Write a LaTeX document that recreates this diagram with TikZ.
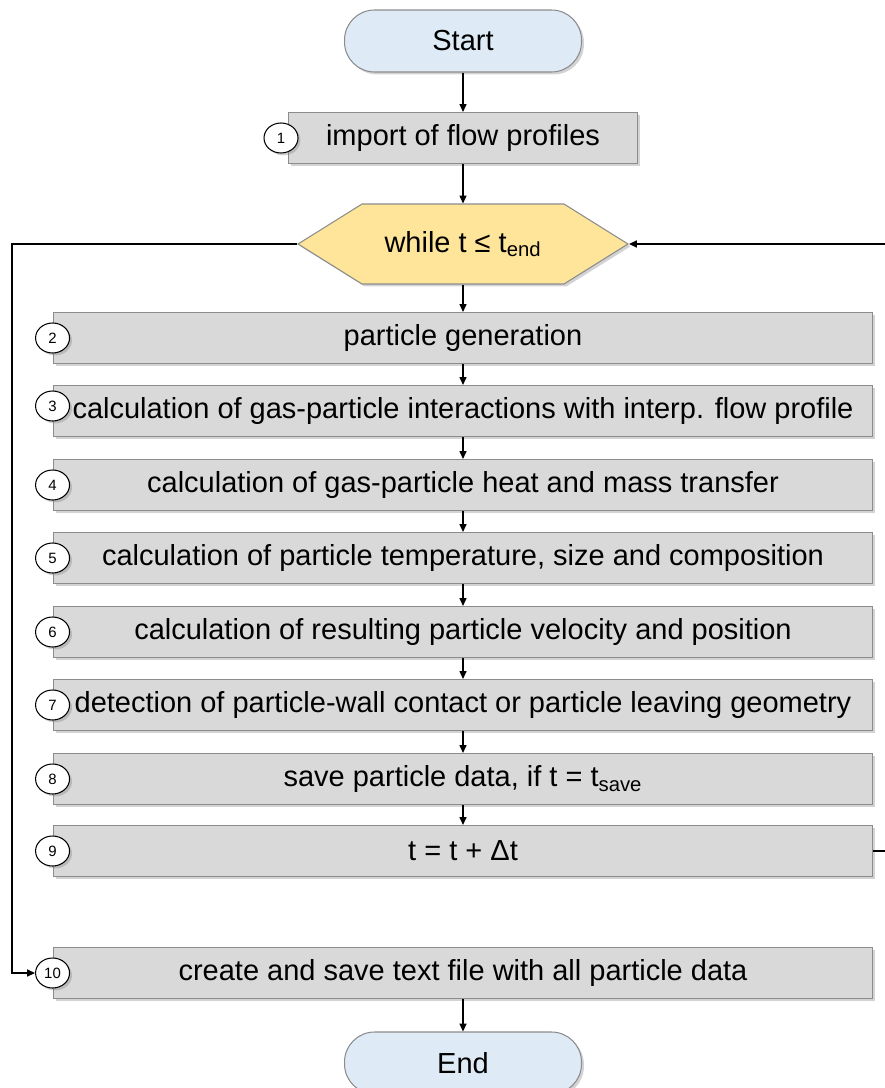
\documentclass[tikz,border=0pt]{standalone}
\usepackage{fontspec}
\setmainfont{Liberation Sans}
\usepackage{xcolor}
\usepackage{tikz}
\usetikzlibrary{arrows.meta,positioning,shapes.geometric,shapes.symbols,shadows}
\definecolor{flowgray}{RGB}{217,217,217}
\definecolor{flowedge}{RGB}{140,140,140}
\definecolor{termblue}{RGB}{222,235,247}
\definecolor{loopgold}{RGB}{255,229,153}

\begin{document}
\begin{tikzpicture}[x=0.02cm, y=-0.02cm, >={Triangle[length=4.5pt,width=4pt]},
  every node/.style={font=\fontsize{16.5}{19}\selectfont},
  boxshadow/.style={drop shadow={shadow xshift=1.4pt, shadow yshift=-1.4pt, opacity=0.35}},
  stepbox/.style={draw=flowedge, fill=flowgray, line width=0.6pt, minimum width=16.4cm, minimum height=1.02cm, inner sep=0pt, boxshadow},
  numdot/.style={ellipse, draw=black, fill=white, line width=0.6pt, minimum width=0.68cm, minimum height=0.6cm, inner sep=0pt, font=\fontsize{8.5}{10}\selectfont, boxshadow},
  terminal/.style={rectangle, rounded corners=0.6cm, draw=flowedge, fill=termblue, line width=0.6pt, minimum width=4.74cm, minimum height=1.24cm, boxshadow},
  flow/.style={->, line width=0.7pt, black}]
  \useasboundingbox (0,0) rectangle (885,1088);

  % start and import
  \node[terminal] (start) at (463,41) {Start};
  \node[stepbox, minimum width=6.98cm] (b1) at (463,138) {import of flow profiles};

  % loop head
  \node[shape=signal, signal to=east and west, signal pointer angle=64, draw=flowedge, fill=loopgold, line width=0.6pt, minimum width=6.6cm, minimum height=1.6cm, inner sep=0pt, boxshadow] (cond) at (463,244) {while t ≤ t\textsubscript{end}};

  % time step
  \node[stepbox] (b2) at (463,338) {particle generation};
  \node[stepbox] (b3) at (463,411) {calculation of gas-particle interactions with interp. flow profile};
  \node[stepbox] (b4) at (463,485) {calculation of gas-particle heat and mass transfer};
  \node[stepbox] (b5) at (463,558) {calculation of particle temperature, size and composition};
  \node[stepbox] (b6) at (463,632) {calculation of resulting particle velocity and position};
  \node[stepbox] (b7) at (463,705) {detection of particle-wall contact or particle leaving geometry};
  \node[stepbox] (b8) at (463,779) {save particle data, if t = t\textsubscript{save}};
  \node[stepbox] (b9) at (463,851) {t = t + Δt};

  % output and end
  \node[stepbox] (b10) at (463,973) {create and save text file with all particle data};
  \node[terminal] (end) at (463,1063) {End};

  % numbers
  \node[numdot] (n1) at ([xshift=-0.14cm]b1.west) {1};
  \node[numdot] (n2) at (b2.west) {2};
  \node[numdot] (n3) at ([yshift=0.1cm]b3.west) {3};
  \node[numdot] (n4) at (b4.west) {4};
  \node[numdot] (n5) at (b5.west) {5};
  \node[numdot] (n6) at (b6.west) {6};
  \node[numdot] (n7) at (b7.west) {7};
  \node[numdot] (n8) at (b8.west) {8};
  \node[numdot] (n9) at (b9.west) {9};
  \node[numdot] (n10) at (b10.west) {10};

  % connectors
  \draw[flow] (start.south) -- (b1.north);
  \draw[flow] (b1.south) -- (cond.north);
  \draw[flow] (cond.south) -- (b2.north);
  \draw[flow] (b2.south) -- (b3.north);
  \draw[flow] (b3.south) -- (b4.north);
  \draw[flow] (b4.south) -- (b5.north);
  \draw[flow] (b5.south) -- (b6.north);
  \draw[flow] (b6.south) -- (b7.north);
  \draw[flow] (b7.south) -- (b8.north);
  \draw[flow] (b8.south) -- (b9.north);
  \draw[flow] (b10.south) -- (end.north);

  % loop back and exit
  \coordinate (backR) at (887,851);
  \coordinate (exitL) at (12,244);
  \draw[flow] (b9.east) -- (backR) |- (cond.east);
  \draw[flow] (cond.west) -- (exitL) |- (n10.west);
\end{tikzpicture}
\end{document}
